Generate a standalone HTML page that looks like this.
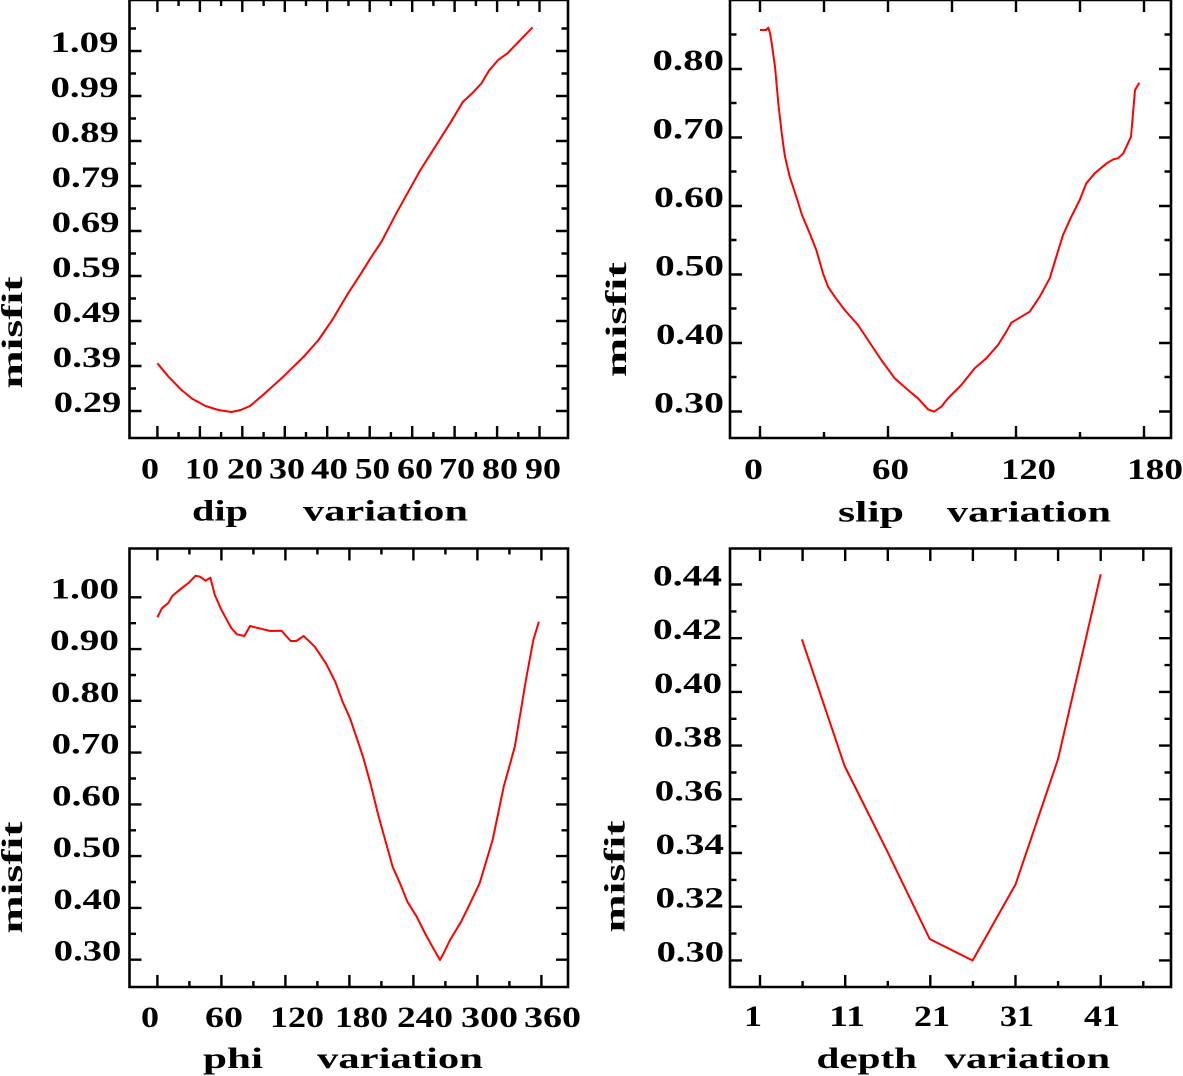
<!DOCTYPE html>
<html><head><meta charset="utf-8"><style>
html,body{margin:0;padding:0;background:#fff;}
svg{display:block;}
text{font-family:"Liberation Serif",serif;font-weight:bold;font-size:30px;fill:#000;}
.ax{fill:none;stroke:#000;stroke-width:2.6;}
.tk{stroke:#000;stroke-width:2.4;}
.cv{fill:none;stroke:#ff0000;stroke-width:2;stroke-linejoin:round;}
</style></head><body>
<svg width="1183" height="1076" viewBox="0 0 1183 1076" xmlns="http://www.w3.org/2000/svg">
<rect x="0" y="0" width="1183" height="1076" fill="#fff"/>

<!-- ================= TOP-LEFT (dip) ================= -->
<path class="ax" d="M129.5,0 L568,0 L568,438 L129.5,438 Z"/>
<path class="tk" d="
M157.4,438V426 M199.9,438V426 M242.3,438V426 M284.8,438V426 M327.2,438V426 M369.7,438V426 M412.2,438V426 M454.6,438V426 M497.1,438V426 M539.5,438V426
M178.6,438V432 M221.1,438V432 M263.6,438V432 M306,438V432 M348.5,438V432 M390.9,438V432 M433.4,438V432 M475.9,438V432 M518.3,438V432
M157.4,0V12 M199.9,0V12 M242.3,0V12 M284.8,0V12 M327.2,0V12 M369.7,0V12 M412.2,0V12 M454.6,0V12 M497.1,0V12 M539.5,0V12
M178.6,0V6 M221.1,0V6 M263.6,0V6 M306,0V6 M348.5,0V6 M390.9,0V6 M433.4,0V6 M475.9,0V6 M518.3,0V6
M129.5,51H141.5 M129.5,96H141.5 M129.5,141H141.5 M129.5,186H141.5 M129.5,231H141.5 M129.5,276H141.5 M129.5,321H141.5 M129.5,366H141.5 M129.5,411H141.5
M129.5,28.5H136 M129.5,73.5H136 M129.5,118.5H136 M129.5,163.5H136 M129.5,208.5H136 M129.5,253.5H136 M129.5,298.5H136 M129.5,343.5H136 M129.5,388.5H136
M568,51H556 M568,96H556 M568,141H556 M568,186H556 M568,231H556 M568,276H556 M568,321H556 M568,366H556 M568,411H556
M568,28.5H561.5 M568,73.5H561.5 M568,118.5H561.5 M568,163.5H561.5 M568,208.5H561.5 M568,253.5H561.5 M568,298.5H561.5 M568,343.5H561.5 M568,388.5H561.5
"/>
<text x="50.5" y="52" textLength="68" lengthAdjust="spacingAndGlyphs">1.09</text>
<text x="50.5" y="97" textLength="68" lengthAdjust="spacingAndGlyphs">0.99</text>
<text x="51" y="142" textLength="68" lengthAdjust="spacingAndGlyphs">0.89</text>
<text x="51.6" y="187" textLength="68" lengthAdjust="spacingAndGlyphs">0.79</text>
<text x="51.6" y="232" textLength="68" lengthAdjust="spacingAndGlyphs">0.69</text>
<text x="52" y="277" textLength="68.5" lengthAdjust="spacingAndGlyphs">0.59</text>
<text x="52.7" y="322" textLength="68" lengthAdjust="spacingAndGlyphs">0.49</text>
<text x="52.7" y="367" textLength="68.5" lengthAdjust="spacingAndGlyphs">0.39</text>
<text x="53.8" y="412" textLength="67.5" lengthAdjust="spacingAndGlyphs">0.29</text>

<text x="141" y="478.5" textLength="18" lengthAdjust="spacingAndGlyphs">0</text>
<text x="185" y="478.5" textLength="34" lengthAdjust="spacingAndGlyphs">10</text>
<text x="227" y="478.5" textLength="36" lengthAdjust="spacingAndGlyphs">20</text>
<text x="269" y="478.5" textLength="36" lengthAdjust="spacingAndGlyphs">30</text>
<text x="311" y="478.5" textLength="37" lengthAdjust="spacingAndGlyphs">40</text>
<text x="355" y="478.5" textLength="35" lengthAdjust="spacingAndGlyphs">50</text>
<text x="397" y="478.5" textLength="36" lengthAdjust="spacingAndGlyphs">60</text>
<text x="439" y="478.5" textLength="36" lengthAdjust="spacingAndGlyphs">70</text>
<text x="482" y="478.5" textLength="36" lengthAdjust="spacingAndGlyphs">80</text>
<text x="525" y="478.5" textLength="36" lengthAdjust="spacingAndGlyphs">90</text>

<text x="192" y="520.5" textLength="56" lengthAdjust="spacingAndGlyphs">dip</text>
<text x="303" y="520.5" textLength="165" lengthAdjust="spacingAndGlyphs">variation</text>
<text transform="translate(22,388.5) rotate(-90)" x="0" y="0" textLength="112" lengthAdjust="spacingAndGlyphs">misfit</text>

<polyline class="cv" points="157.4,363.3 168.5,376.7 181.5,390 192.6,399 205.6,406 218.5,410 231.5,412 240.7,410 250,406 263,395 281.5,378.3 303.7,356.7 318.5,340 333.3,318.3 348.1,293.3 361.1,273.3 370.4,258.3 381.5,241.7 396.3,213.3 407.4,193.3 420.4,170 435.2,146.7 450,123.3 463,101.7 472.2,93.3 481.5,83.3 488.9,70.7 498.1,60 507.4,53.3 532.6,27.3"/>

<!-- ================= TOP-RIGHT (slip) ================= -->
<path class="ax" d="M730,0 L1171,0 L1171,438 L730,438 Z"/>
<path class="tk" d="
M760,438V426 M888,438V426 M1016,438V426 M1144,438V426
M824,438V432 M952,438V432 M1080,438V432
M760,0V12 M824,0V12 M888,0V12 M952,0V12 M1016,0V12 M1080,0V12 M1144,0V12
M730,69H742 M730,137.5H742 M730,206H742 M730,274.5H742 M730,343H742 M730,411.5H742
M730,34.5H736.5 M730,103H736.5 M730,171.5H736.5 M730,240H736.5 M730,308.5H736.5 M730,377H736.5
M1171,69H1159 M1171,137.5H1159 M1171,206H1159 M1171,274.5H1159 M1171,343H1159 M1171,411.5H1159
M1171,34.5H1164.5 M1171,103H1164.5 M1171,171.5H1164.5 M1171,240H1164.5 M1171,308.5H1164.5 M1171,377H1164.5
"/>
<text x="652.5" y="70" textLength="71.5" lengthAdjust="spacingAndGlyphs">0.80</text>
<text x="652.5" y="138.5" textLength="71.5" lengthAdjust="spacingAndGlyphs">0.70</text>
<text x="654" y="207" textLength="70" lengthAdjust="spacingAndGlyphs">0.60</text>
<text x="655" y="275.5" textLength="69" lengthAdjust="spacingAndGlyphs">0.50</text>
<text x="656" y="344" textLength="68" lengthAdjust="spacingAndGlyphs">0.40</text>
<text x="654" y="412.5" textLength="70" lengthAdjust="spacingAndGlyphs">0.30</text>

<text x="744" y="479" textLength="19" lengthAdjust="spacingAndGlyphs">0</text>
<text x="872" y="479" textLength="37" lengthAdjust="spacingAndGlyphs">60</text>
<text x="1001" y="479" textLength="55" lengthAdjust="spacingAndGlyphs">120</text>
<text x="1127" y="479" textLength="56" lengthAdjust="spacingAndGlyphs">180</text>

<text x="838" y="521.5" textLength="66" lengthAdjust="spacingAndGlyphs">slip</text>
<text x="947" y="521.5" textLength="164" lengthAdjust="spacingAndGlyphs">variation</text>
<text transform="translate(626,377) rotate(-90)" x="0" y="0" textLength="115" lengthAdjust="spacingAndGlyphs">misfit</text>

<polyline class="cv" points="760,30 766,30 768.3,27.7 770,33 771.7,43.3 775,66.7 778.3,103.3 781.7,133.3 784,150 785,156.7 789.7,176.7 796.3,196.7 802,215 809.7,233.3 816.3,250 823,273.3 828,286.7 834.7,296.7 844.7,310 858,325 868,340 881.3,360 894.7,378.3 908,390 918,398.3 928,409.3 934,411.7 941.3,406.7 948,398.3 961.3,385 974.7,368.3 986.3,358.3 998,345 1006.3,331.7 1011.3,322.7 1021.3,316.7 1029.7,311.7 1039.7,296.7 1049.7,278.3 1056.3,256.7 1063,235 1071.3,216.7 1079.7,200 1086.3,183.3 1094.7,173.3 1106.7,163.3 1113.3,159.3 1118,158.3 1123.3,153.3 1131,136.7 1133.3,110 1135,90 1139.3,82.7"/>

<!-- ================= BOTTOM-LEFT (phi) ================= -->
<path class="ax" d="M129.5,548.5 L568,548.5 L568,987 L129.5,987 Z"/>
<path class="tk" d="
M157.4,987V975 M221.4,987V975 M285.4,987V975 M349.4,987V975 M413.4,987V975 M477.4,987V975 M541.4,987V975
M189.4,987V981 M253.4,987V981 M317.4,987V981 M381.4,987V981 M445.4,987V981 M509.4,987V981
M157.4,548.5V560.5 M221.4,548.5V560.5 M285.4,548.5V560.5 M349.4,548.5V560.5 M413.4,548.5V560.5 M477.4,548.5V560.5 M541.4,548.5V560.5
M189.4,548.5V554.5 M253.4,548.5V554.5 M317.4,548.5V554.5 M381.4,548.5V554.5 M445.4,548.5V554.5 M509.4,548.5V554.5
M129.5,597.3H141.5 M129.5,649.1H141.5 M129.5,700.8H141.5 M129.5,752.6H141.5 M129.5,804.4H141.5 M129.5,856.1H141.5 M129.5,907.9H141.5 M129.5,959.7H141.5
M129.5,623.2H136 M129.5,675H136 M129.5,726.7H136 M129.5,778.5H136 M129.5,830.3H136 M129.5,882H136 M129.5,933.8H136
M568,597.3H556 M568,649.1H556 M568,700.8H556 M568,752.6H556 M568,804.4H556 M568,856.1H556 M568,907.9H556 M568,959.7H556
M568,623.2H561.5 M568,675H561.5 M568,726.7H561.5 M568,778.5H561.5 M568,830.3H561.5 M568,882H561.5 M568,933.8H561.5
"/>
<text x="50.5" y="598.3" textLength="68.5" lengthAdjust="spacingAndGlyphs">1.00</text>
<text x="50" y="650.1" textLength="69" lengthAdjust="spacingAndGlyphs">0.90</text>
<text x="51" y="701.8" textLength="68.5" lengthAdjust="spacingAndGlyphs">0.80</text>
<text x="51.6" y="753.6" textLength="68" lengthAdjust="spacingAndGlyphs">0.70</text>
<text x="52" y="805.4" textLength="68.6" lengthAdjust="spacingAndGlyphs">0.60</text>
<text x="52.7" y="857.1" textLength="68" lengthAdjust="spacingAndGlyphs">0.50</text>
<text x="53.4" y="908.9" textLength="68" lengthAdjust="spacingAndGlyphs">0.40</text>
<text x="53.8" y="960.7" textLength="67.5" lengthAdjust="spacingAndGlyphs">0.30</text>

<text x="141" y="1027" textLength="18" lengthAdjust="spacingAndGlyphs">0</text>
<text x="205" y="1027" textLength="38" lengthAdjust="spacingAndGlyphs">60</text>
<text x="270" y="1027" textLength="54" lengthAdjust="spacingAndGlyphs">120</text>
<text x="335" y="1027" textLength="53" lengthAdjust="spacingAndGlyphs">180</text>
<text x="397" y="1027" textLength="56" lengthAdjust="spacingAndGlyphs">240</text>
<text x="461" y="1027" textLength="57" lengthAdjust="spacingAndGlyphs">300</text>
<text x="524" y="1027" textLength="57" lengthAdjust="spacingAndGlyphs">360</text>

<text x="203" y="1068" textLength="60" lengthAdjust="spacingAndGlyphs">phi</text>
<text x="317" y="1068" textLength="166" lengthAdjust="spacingAndGlyphs">variation</text>
<text transform="translate(22,933.5) rotate(-90)" x="0" y="0" textLength="112" lengthAdjust="spacingAndGlyphs">misfit</text>

<polyline class="cv" points="157.4,617.3 161.9,608.3 168.5,602.7 172.2,596 181.5,588.3 188.9,582.7 195.6,575.7 200,576.7 205.6,580.7 210.4,577.7 214.8,595 221.5,610 227.8,621.7 231.5,628.3 237,634.3 244.4,636 250,626 259.3,628.3 270.4,631 281.5,630.7 290.7,641 296.3,641 303.7,636 314.8,646.7 325.9,663.3 335.2,681.7 342.6,701.7 350,718.3 357.4,740 363,756.7 370.4,783.3 377.8,813.3 385.2,840 392.6,866.7 400,883.3 407.4,901.7 416.7,916.7 425.9,935 433.3,948.3 440,960 444.4,951.7 450,940 461.1,921.7 468.5,906.7 479.6,883.3 492.6,840 503.7,786.7 514.8,746.7 525.9,680 533.3,640 538.9,621.7"/>

<!-- ================= BOTTOM-RIGHT (depth) ================= -->
<path class="ax" d="M730,548.5 L1171,548.5 L1171,987 L730,987 Z"/>
<path class="tk" d="
M760,987V975 M845.2,987V975 M930.3,987V975 M1015.5,987V975 M1100.7,987V975
M802.6,987V981 M887.8,987V981 M972.9,987V981 M1058.1,987V981 M1143.3,987V981
M760,548.5V561 M802.6,548.5V561 M845.2,548.5V561 M887.8,548.5V561 M930.3,548.5V561 M972.9,548.5V561 M1015.5,548.5V561 M1058.1,548.5V561 M1100.7,548.5V561 M1143.3,548.5V561
M730,584.5H742 M730,638.2H742 M730,691.9H742 M730,745.6H742 M730,799.3H742 M730,853H742 M730,906.7H742 M730,960.4H742
M730,611.4H736.5 M730,665.1H736.5 M730,718.8H736.5 M730,772.5H736.5 M730,826.2H736.5 M730,879.9H736.5 M730,933.6H736.5
M1171,584.5H1159 M1171,638.2H1159 M1171,691.9H1159 M1171,745.6H1159 M1171,799.3H1159 M1171,853H1159 M1171,906.7H1159 M1171,960.4H1159
M1171,611.4H1164.5 M1171,665.1H1164.5 M1171,718.8H1164.5 M1171,772.5H1164.5 M1171,826.2H1164.5 M1171,879.9H1164.5 M1171,933.6H1164.5
"/>
<text x="653" y="585.5" textLength="69" lengthAdjust="spacingAndGlyphs">0.44</text>
<text x="653" y="639.2" textLength="69" lengthAdjust="spacingAndGlyphs">0.42</text>
<text x="654" y="692.9" textLength="68" lengthAdjust="spacingAndGlyphs">0.40</text>
<text x="654" y="746.6" textLength="68" lengthAdjust="spacingAndGlyphs">0.38</text>
<text x="654.8" y="800.3" textLength="68" lengthAdjust="spacingAndGlyphs">0.36</text>
<text x="655.5" y="854" textLength="68.5" lengthAdjust="spacingAndGlyphs">0.34</text>
<text x="655.5" y="907.7" textLength="68.5" lengthAdjust="spacingAndGlyphs">0.32</text>
<text x="656.6" y="961.4" textLength="67.5" lengthAdjust="spacingAndGlyphs">0.30</text>

<text x="744" y="1026" textLength="18" lengthAdjust="spacingAndGlyphs">1</text>
<text x="829" y="1026" textLength="36" lengthAdjust="spacingAndGlyphs">11</text>
<text x="914" y="1026" textLength="36" lengthAdjust="spacingAndGlyphs">21</text>
<text x="1000" y="1026" textLength="34" lengthAdjust="spacingAndGlyphs">31</text>
<text x="1084" y="1026" textLength="36" lengthAdjust="spacingAndGlyphs">41</text>

<text x="816.5" y="1068" textLength="100.5" lengthAdjust="spacingAndGlyphs">depth</text>
<text x="944.7" y="1068" textLength="165.5" lengthAdjust="spacingAndGlyphs">variation</text>
<text transform="translate(624.5,932.5) rotate(-90)" x="0" y="0" textLength="112" lengthAdjust="spacingAndGlyphs">misfit</text>

<polyline class="cv" points="801.9,639.3 844.6,766 887.4,851.6 929.7,939 972.6,960.5 1015.6,884.2 1058,759.2 1100.7,574.2"/>
</svg>
</body></html>
